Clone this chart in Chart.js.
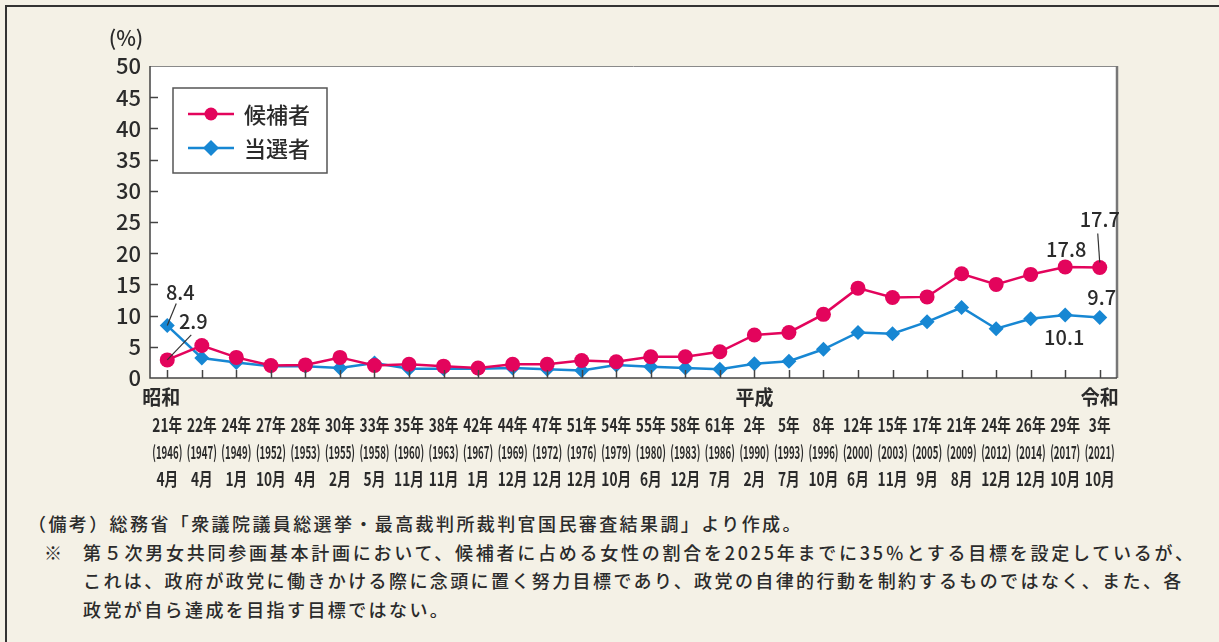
<!DOCTYPE html>
<html lang="ja">
<head>
<meta charset="utf-8">
<script src="https://cdn.jsdelivr.net/npm/chart.js@4/dist/chart.umd.min.js"></script>
<style>
  html, body { margin: 0; padding: 0; }
  body { width: 1219px; height: 642px; background: #f4f1e6; position: relative; overflow: hidden;
         font-family: "Noto Sans CJK JP", "Noto Sans", sans-serif; color: #2b2b2b; }
  .frame { position: absolute; left: 5px; top: 5px; right: -10px; bottom: -10px;
           border-top: 2px solid #333; border-left: 2px solid #333; }
  #wrap { position: absolute; left: 0; top: 0; width: 1219px; height: 500px; }
  .notes { position: absolute; left: 28px; top: 509px; font-size: 18px; line-height: 28.5px;
           letter-spacing: 2.4px; white-space: nowrap; font-weight: 500; }
  .notes .ind { padding-left: 55px; position: relative; }
  .notes .mark { position: absolute; left: 16px; }
  .notes .wide { letter-spacing: 2.75px; }
</style>
</head>
<body>
<div class="frame"></div>
<div id="wrap"><canvas id="chart" width="1219" height="500"></canvas></div>
<div class="notes">
  <div>（備考）総務省「衆議院議員総選挙・最高裁判所裁判官国民審査結果調」より作成。</div>
  <div class="ind wide"><span class="mark">※</span>第５次男女共同参画基本計画において、候補者に占める女性の割合を2025年までに35％とする目標を設定しているが、</div>
  <div class="ind">これは、政府が政党に働きかける際に念頭に置く努力目標であり、政党の自律的行動を制約するものではなく、また、各</div>
  <div class="ind">政党が自ら達成を目指す目標ではない。</div>
</div>
<script>
// 元号と年月
const eras = ['昭和', '', '', '', '', '', '', '', '', '', '', '', '', '', '', '', '', '平成', '', '', '', '', '', '', '', '', '', '令和'];
const yearLabels = ['21年', '22年', '24年', '27年', '28年', '30年', '33年', '35年', '38年', '42年', '44年', '47年', '51年', '54年', '55年', '58年', '61年',
  '2年', '5年', '8年', '12年', '15年', '17年', '21年', '24年', '26年', '29年', '3年'];
const westernYears = ['(1946)', '(1947)', '(1949)', '(1952)', '(1953)', '(1955)', '(1958)', '(1960)', '(1963)', '(1967)', '(1969)', '(1972)', '(1976)', '(1979)',
  '(1980)', '(1983)', '(1986)', '(1990)', '(1993)', '(1996)', '(2000)', '(2003)', '(2005)', '(2009)', '(2012)', '(2014)', '(2017)', '(2021)'];
const months = ['4月', '4月', '1月', '10月', '4月', '2月', '5月', '11月', '11月', '1月', '12月', '12月', '12月', '10月', '6月', '12月', '7月',
  '2月', '7月', '10月', '6月', '11月', '9月', '8月', '12月', '12月', '10月', '10月'];

// 女性の割合（%）
const candidates = [2.9, 5.2, 3.3, 2.0, 2.1, 3.3, 2.0, 2.2, 1.9, 1.6, 2.2, 2.2, 2.8, 2.6, 3.4, 3.4, 4.2,
  6.9, 7.3, 10.2, 14.4, 12.9, 13.0, 16.7, 15.0, 16.6, 17.8, 17.7];
const elected = [8.4, 3.2, 2.5, 1.9, 1.9, 1.6, 2.4, 1.5, 1.5, 1.5, 1.6, 1.4, 1.2, 2.1, 1.8, 1.6, 1.4,
  2.3, 2.7, 4.6, 7.3, 7.1, 9.0, 11.3, 7.9, 9.5, 10.1, 9.7];

const yTicks = [0, 5, 10, 15, 20, 25, 30, 35, 40, 45, 50];

// 数値ラベル: [系列, 位置]
const callouts = [[1, 0], [0, 0], [0, 26], [0, 27], [1, 27], [1, 26]];

const PINK = '#e3045c';
const BLUE = '#1787d3';
const FONT = '"Noto Sans CJK JP", "Noto Sans", sans-serif';

const catLabels = yearLabels.map((y, i) => eras[i] + y);

const plotBg = {
  id: 'plotBg',
  beforeDraw(chart) {
    const { ctx, chartArea: a } = chart;
    ctx.save();
    ctx.fillStyle = '#fff';
    ctx.fillRect(a.left, a.top, a.right - a.left, a.bottom - a.top);
    ctx.restore();
  }
};

const frame = {
  id: 'frame',
  afterDatasetsDraw(chart) {
    const { ctx, chartArea: a, scales } = chart;
    const x = scales.x, y = scales.y;
    ctx.save();
    // 枠
    ctx.strokeStyle = '#8a8a8a';
    ctx.lineWidth = 1;
    ctx.beginPath();
    ctx.moveTo(a.left, a.top + 0.5);
    ctx.lineTo(a.right, a.top + 0.5);
    ctx.stroke();
    ctx.strokeStyle = '#777';
    ctx.lineWidth = 2.5;
    ctx.beginPath();
    ctx.moveTo(a.right, a.top);
    ctx.lineTo(a.right, a.bottom);
    ctx.stroke();
    ctx.strokeStyle = '#444';
    ctx.lineWidth = 1.5;
    ctx.beginPath();
    ctx.moveTo(a.left, a.top);
    ctx.lineTo(a.left, a.bottom);
    ctx.lineTo(a.right, a.bottom);
    ctx.stroke();
    // 目盛り
    ctx.lineWidth = 1.5;
    yTicks.forEach(v => {
      if (v === 0 || v === 50) return;
      const py = Math.round(y.getPixelForValue(v)) + 0.5;
      ctx.beginPath();
      ctx.moveTo(a.left, py);
      ctx.lineTo(a.left + 8, py);
      ctx.stroke();
    });
    catLabels.forEach((_, i) => {
      const px = Math.round(x.getPixelForValue(i)) + 0.5;
      ctx.beginPath();
      ctx.moveTo(px, a.bottom);
      ctx.lineTo(px, a.bottom - 8);
      ctx.stroke();
    });

    // 単位
    ctx.fillStyle = '#2b2b2b';
    ctx.font = '500 21px ' + FONT;
    ctx.textAlign = 'center';
    ctx.textBaseline = 'middle';
    ctx.fillText('(%)', 126, 38);

    // x 軸ラベル
    const squeeze = (txt, px, py, size, sx, weight) => {
      ctx.save();
      ctx.translate(px, py);
      ctx.scale(sx, 1);
      ctx.font = (weight || '') + ' ' + size + 'px ' + FONT;
      ctx.fillText(txt, 0, 0);
      ctx.restore();
    };
    catLabels.forEach((_, i) => {
      const px = x.getPixelForValue(i);
      if (eras[i]) {
        const ex = i === 0 ? px - 6 : px;
        squeeze(eras[i], ex, 397, 20, 0.95, 'bold');
      }
      squeeze(yearLabels[i], px, 425, 18, 0.76, 'bold');
      squeeze(westernYears[i], px, 452, 17.5, 0.55, 'bold');
      squeeze(months[i], px, 479, 18, 0.76, 'bold');
    });

    // 数値ラベル
    const offsets = {
      '1,0': { t: [13, -33], l: [9, -22] },
      '0,0': { t: [26, -38], l: [24, -25] },
      '0,26': { t: [1, -18] },
      '0,27': { t: [0, -48], l: [-2, -34], l0: [0, -5] },
      '1,27': { t: [2, -20] },
      '1,26': { t: [-1, 22] }
    };
    ctx.font = '500 20px ' + FONT;
    ctx.strokeStyle = '#333';
    ctx.lineWidth = 1.2;
    callouts.forEach(([ds, idx]) => {
      const val = chart.data.datasets[ds].data[idx];
      const px = x.getPixelForValue(idx), py = y.getPixelForValue(val);
      const o = offsets[ds + ',' + idx];
      if (o.l) {
        const s = o.l0 || [0, 0];
        ctx.beginPath();
        ctx.moveTo(px + s[0], py + s[1]);
        ctx.lineTo(px + o.l[0], py + o.l[1]);
        ctx.stroke();
      }
      ctx.fillText(val.toFixed(1), px + o.t[0], py + o.t[1]);
    });

    // 凡例
    const lx = 173, ly = 88, lw = 154, lh = 85;
    ctx.fillStyle = '#fff';
    ctx.fillRect(lx, ly, lw, lh);
    ctx.strokeStyle = '#555';
    ctx.lineWidth = 1.5;
    ctx.strokeRect(lx, ly, lw, lh);
    chart.data.datasets.forEach((d, k) => {
      const cy = ly + 26 + k * 34;
      ctx.strokeStyle = d.borderColor;
      ctx.lineWidth = 2.5;
      ctx.beginPath();
      ctx.moveTo(lx + 15, cy);
      ctx.lineTo(lx + 61, cy);
      ctx.stroke();
      ctx.fillStyle = d.backgroundColor;
      ctx.beginPath();
      if (d.pointStyle === 'circle') {
        ctx.arc(lx + 38, cy, 6.5, 0, Math.PI * 2);
      } else {
        ctx.moveTo(lx + 38, cy - 8);
        ctx.lineTo(lx + 46, cy);
        ctx.lineTo(lx + 38, cy + 8);
        ctx.lineTo(lx + 30, cy);
        ctx.closePath();
      }
      ctx.fill();
      ctx.fillStyle = '#2b2b2b';
      ctx.font = '500 22px ' + FONT;
      ctx.textAlign = 'left';
      ctx.fillText(d.label, lx + 71, cy + 1);
    });
    ctx.restore();
  }
};

new Chart(document.getElementById('chart').getContext('2d'), {
  type: 'line',
  data: {
    labels: catLabels,
    datasets: [
      {
        label: '候補者',
        data: candidates,
        borderColor: PINK,
        backgroundColor: PINK,
        borderWidth: 2.5,
        pointStyle: 'circle',
        pointRadius: 7.5,
        pointBorderWidth: 0,
        tension: 0,
        clip: false
      },
      {
        label: '当選者',
        data: elected,
        borderColor: BLUE,
        backgroundColor: BLUE,
        borderWidth: 2.5,
        pointStyle: 'rectRot',
        pointRadius: 7.5,
        pointBorderWidth: 0,
        tension: 0,
        clip: false
      }
    ]
  },
  options: {
    responsive: false,
    animation: false,
    devicePixelRatio: 1,
    layout: { padding: { left: 0, top: 66, right: 102, bottom: 122 } },
    scales: {
      x: {
        type: 'category',
        offset: true,
        grid: { display: false },
        border: { display: false },
        ticks: { display: false },
        afterFit: s => { s.height = 0; }
      },
      y: {
        min: 0,
        max: 50,
        afterBuildTicks: s => { s.ticks = yTicks.map(v => ({ value: v })); },
        grid: { display: false, drawTicks: false },
        border: { display: false },
        ticks: {
          padding: 9,
          color: '#2b2b2b',
          font: { family: FONT, size: 22, weight: '500' }
        },
        afterFit: s => { s.width = 150; }
      }
    },
    plugins: {
      legend: { display: false },
      tooltip: { enabled: false }
    }
  },
  plugins: [plotBg, frame]
});
</script>
</body>
</html>
